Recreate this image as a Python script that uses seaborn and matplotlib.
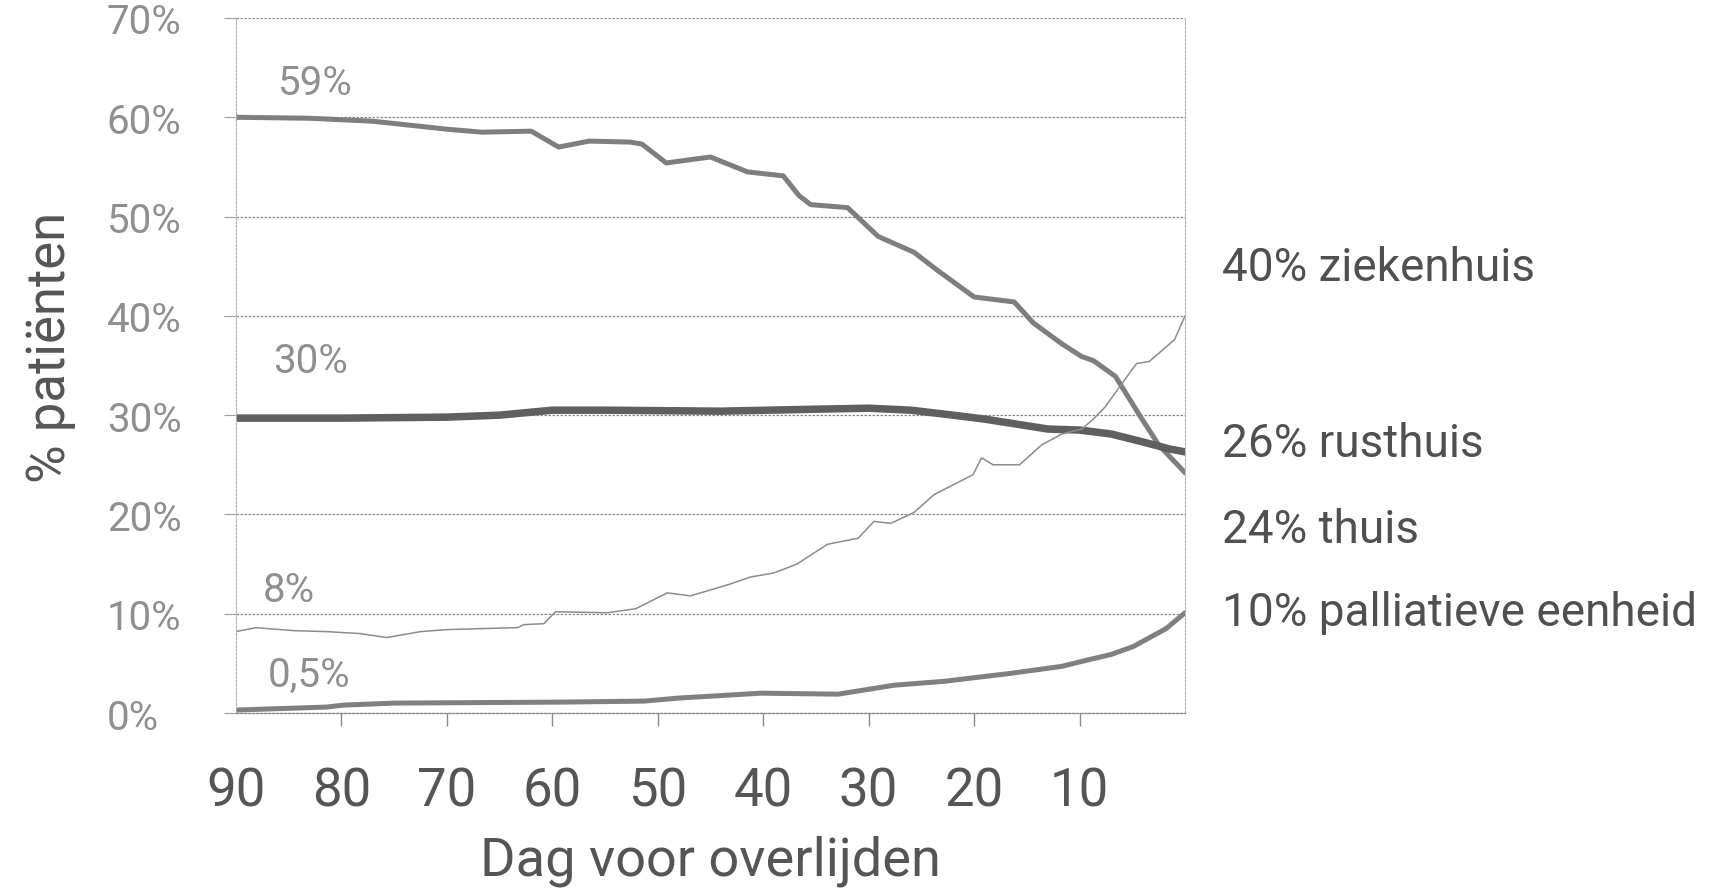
import numpy as np
import pandas as pd
import matplotlib
matplotlib.use('Agg')
import matplotlib.pyplot as plt
import seaborn as sns

sns.set_theme(style='white')
plt.rcParams['font.family'] = ['Roboto', 'DejaVu Sans']

# --- data (dag voor overlijden, % patiënten) ---
thuis_dag = [90, 83, 77, 70, 66.7, 62, 59.4, 56.5, 52.6, 51.5, 49.2, 45, 41.5, 38.1, 36.6,
             35.5, 32, 29.1, 25.7, 23.5, 20, 16.2, 14.4, 11.7, 9.8, 8.7, 6.6, 4.2, 2.5, 0]
thuis_pct = [60.0, 59.9, 59.6, 58.8, 58.5, 58.6, 57.0, 57.6, 57.5, 57.3, 55.4, 56.0, 54.5, 54.1, 52.1,
             51.2, 50.9, 48.0, 46.4, 44.6, 41.9, 41.4, 39.3, 37.2, 35.9, 35.5, 33.9, 29.8, 27.0, 24.2]

rust_dag = [90, 80, 70, 65, 60, 55, 44, 35, 30, 26, 22, 19, 16, 13, 10, 7, 4, 1.5, 0]
rust_pct = [29.7, 29.7, 29.8, 30.0, 30.5, 30.5, 30.4, 30.6, 30.7, 30.5, 30.0, 29.6, 29.1, 28.6,
            28.5, 28.1, 27.3, 26.6, 26.3]

zh_dag = [90, 88.1, 84.6, 81.4, 78.2, 75.7, 72.5, 70, 66.8, 63.3, 62.7, 60.8, 59.7, 54.8, 52.1,
          49.1, 46.9, 43.4, 41.2, 39, 36.8, 33.9, 31, 29.5, 27.9, 25.7, 23.8, 20.1, 19.3, 18.2,
          15.7, 13.6, 11.7, 9.8, 8.7, 7.6, 4.6, 3.4, 1.0, 0]
zh_pct = [8.2, 8.6, 8.3, 8.2, 8.0, 7.6, 8.2, 8.4, 8.5, 8.6, 8.9, 9.0, 10.2, 10.1, 10.5,
          12.1, 11.8, 12.9, 13.7, 14.1, 15.0, 17.0, 17.6, 19.3, 19.1, 20.2, 22.0, 24.0, 25.7, 25.0,
          25.0, 27.0, 28.1, 28.6, 29.6, 30.8, 35.2, 35.4, 37.6, 40.0]

pal_dag = [90, 81.4, 79.8, 75, 59.2, 51.3, 48.1, 40.2, 32.9, 27.6, 22.8, 16.5, 11.7, 9.8, 7, 4.9, 1.8, 0]
pal_pct = [0.3, 0.6, 0.8, 1.0, 1.1, 1.2, 1.5, 2.0, 1.9, 2.8, 3.2, 4.0, 4.7, 5.2, 5.9, 6.7, 8.5, 10.1]

plaatsen = ['thuis', 'rusthuis', 'ziekenhuis', 'palliatieve eenheid']
eind_labels = ['40% ziekenhuis', '26% rusthuis', '24% thuis', '10% palliatieve eenheid']
eind_y = [44.9, 27.2, 18.5, 10.2]
start_labels = ['59%', '30%', '8%', '0,5%']
start_x = [86, 86.5, 87.5, 87]
start_y = [63.5, 35.5, 12.4, 3.9]
x_ticks = [90, 80, 70, 60, 50, 40, 30, 20, 10]
y_ticks = [0, 10, 20, 30, 40, 50, 60, 70]

df = pd.concat([
    pd.DataFrame({'dag': thuis_dag, 'pct': thuis_pct, 'plaats': 'thuis'}),
    pd.DataFrame({'dag': rust_dag, 'pct': rust_pct, 'plaats': 'rusthuis'}),
    pd.DataFrame({'dag': zh_dag, 'pct': zh_pct, 'plaats': 'ziekenhuis'}),
    pd.DataFrame({'dag': pal_dag, 'pct': pal_pct, 'plaats': 'palliatieve eenheid'}),
], ignore_index=True)

kleuren = {'thuis': '#7e7e7e', 'rusthuis': '#5f5f5f', 'ziekenhuis': '#8c8c8c',
           'palliatieve eenheid': '#808080'}
diktes = {'thuis': 3.6, 'rusthuis': 5.4, 'ziekenhuis': 1.1, 'palliatieve eenheid': 3.6}

fig, ax = plt.subplots(figsize=(17.31, 8.95), dpi=100)
fig.subplots_adjust(left=0.1363, right=0.6846, bottom=0.2022, top=0.9788)

sns.lineplot(data=df, x='dag', y='pct', hue='plaats', size='plaats', hue_order=plaatsen,
             size_order=plaatsen, palette=kleuren, sizes=diktes, estimator=None,
             legend=False, ax=ax)

ax.set_xlim(90, 0)
ax.set_ylim(0, 70)

grid_kw = dict(color='#8a8a8a', linewidth=0.9, linestyle=(0, (2, 1.2)))
ax.yaxis.grid(True, **grid_kw)
ax.xaxis.grid(False)
ax.set_axisbelow(True)

for side in ['left', 'right']:
    ax.spines[side].set_visible(True)
    ax.spines[side].set_color('#b0b0b0')
    ax.spines[side].set_linewidth(0.8)
    ax.spines[side].set_linestyle((0, (2, 1.5)))
ax.spines['bottom'].set_color('#8a8a8a')
ax.spines['bottom'].set_linewidth(0.9)
ax.spines['bottom'].set_linestyle((0, (2, 1.2)))
ax.spines['top'].set_visible(False)

ax.set_yticks(y_ticks, labels=[f'{v}%' for v in y_ticks])
ax.set_xticks(x_ticks, labels=[str(v) for v in x_ticks])
ax.tick_params(axis='y', length=9, width=0.8, color='#a0a0a0', pad=84,
               labelsize=29, labelcolor='#8f8f8f', left=True)
ax.tick_params(axis='x', length=9.5, width=1.0, color='#8a8a8a', pad=28,
               labelsize=38, labelcolor='#555555', bottom=True)
plt.setp(ax.get_yticklabels(), ha='left')
ax.xaxis.get_major_ticks()[0].tick1line.set_visible(False)

ax.set_xlabel('Dag voor overlijden', fontsize=39, color='#555555')
ax.set_ylabel('% patiënten', fontsize=38, color='#555555')
ax.xaxis.set_label_coords(0.5, -0.175)
ax.yaxis.label.set_va('top')
ax.yaxis.set_label_coords(-0.222, 0.527)
ax.xaxis.label.set_va('top')

for txt, x, y in zip(start_labels, start_x, start_y):
    ax.text(x, y, txt, fontsize=29, color='#8f8f8f', ha='left', va='center')

for txt, y in zip(eind_labels, eind_y):
    ax.text(-3.5, y, txt, fontsize=33, color='#505050', ha='left', va='center', clip_on=False)

fig.savefig('out.png', dpi=100)
